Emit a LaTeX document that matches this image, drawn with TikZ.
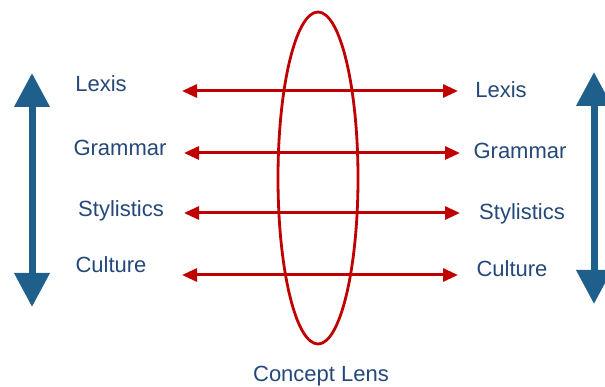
\documentclass[tikz,border=0pt]{standalone}
\usepackage{fontspec}
\setmainfont{Liberation Sans}
\usepackage{xcolor}
\usepackage{tikz}
\usetikzlibrary{arrows.meta,shapes.geometric}
\definecolor{LensRed}{HTML}{C00000}
\definecolor{AxisBlue}{HTML}{1F5F8B}
\definecolor{TextBlue}{HTML}{24487A}
\begin{document}
\begin{tikzpicture}[
  x=1pt, y=-1pt,
  term/.style={font=\fontsize{22}{26}\selectfont, text=TextBlue, inner sep=0pt},
  link/.style={{Triangle[length=15pt,width=13pt]}-{Triangle[length=15pt,width=13pt]}, line width=3pt, draw=LensRed},
  axis/.style={{Triangle[length=34pt,width=34pt]}-{Triangle[length=34pt,width=34pt]}, line width=7pt, draw=AxisBlue}
]
\useasboundingbox (0,0) rectangle (605,387);
\clip (0,0) rectangle (605,387);
% the lens
\node[ellipse, draw=LensRed, line width=2.8pt, minimum width=80pt, minimum height=332pt] (lens) at (318,178) {};
\node[term] (lenslabel) at (321,376) {Concept Lens};
% source side
\node[term] (lexisL) at (101,84) {Lexis};
\node[term] (grammarL) at (120,148) {Grammar};
\node[term] (styleL) at (121,211) {Stylistics};
\node[term] (cultureL) at (111,265) {Culture};
% target side
\node[term] (lexisR) at (501,90) {Lexis};
\node[term] (grammarR) at (520,151) {Grammar};
\node[term] (styleR) at (522,214) {Stylistics};
\node[term] (cultureR) at (512,269) {Culture};
% arrow ends
\coordinate (l1) at (182,91);   \coordinate (r1) at (458,91);
\coordinate (l2) at (184,153);  \coordinate (r2) at (460,153);
\coordinate (l3) at (184,213);  \coordinate (r3) at (460,213);
\coordinate (l4) at (182,275);  \coordinate (r4) at (458,275);
\draw[link] (l1) -- (r1);
\draw[link] (l2) -- (r2);
\draw[link] (l3) -- (r3);
\draw[link] (l4) -- (r4);
% the two scales
\coordinate (ltop) at (32,73);   \coordinate (lbot) at (32,307);
\coordinate (rtop) at (594,72);  \coordinate (rbot) at (594,304);
\draw[axis] (ltop) -- (lbot);
\draw[axis] (rtop) -- (rbot);
\end{tikzpicture}
\end{document}
